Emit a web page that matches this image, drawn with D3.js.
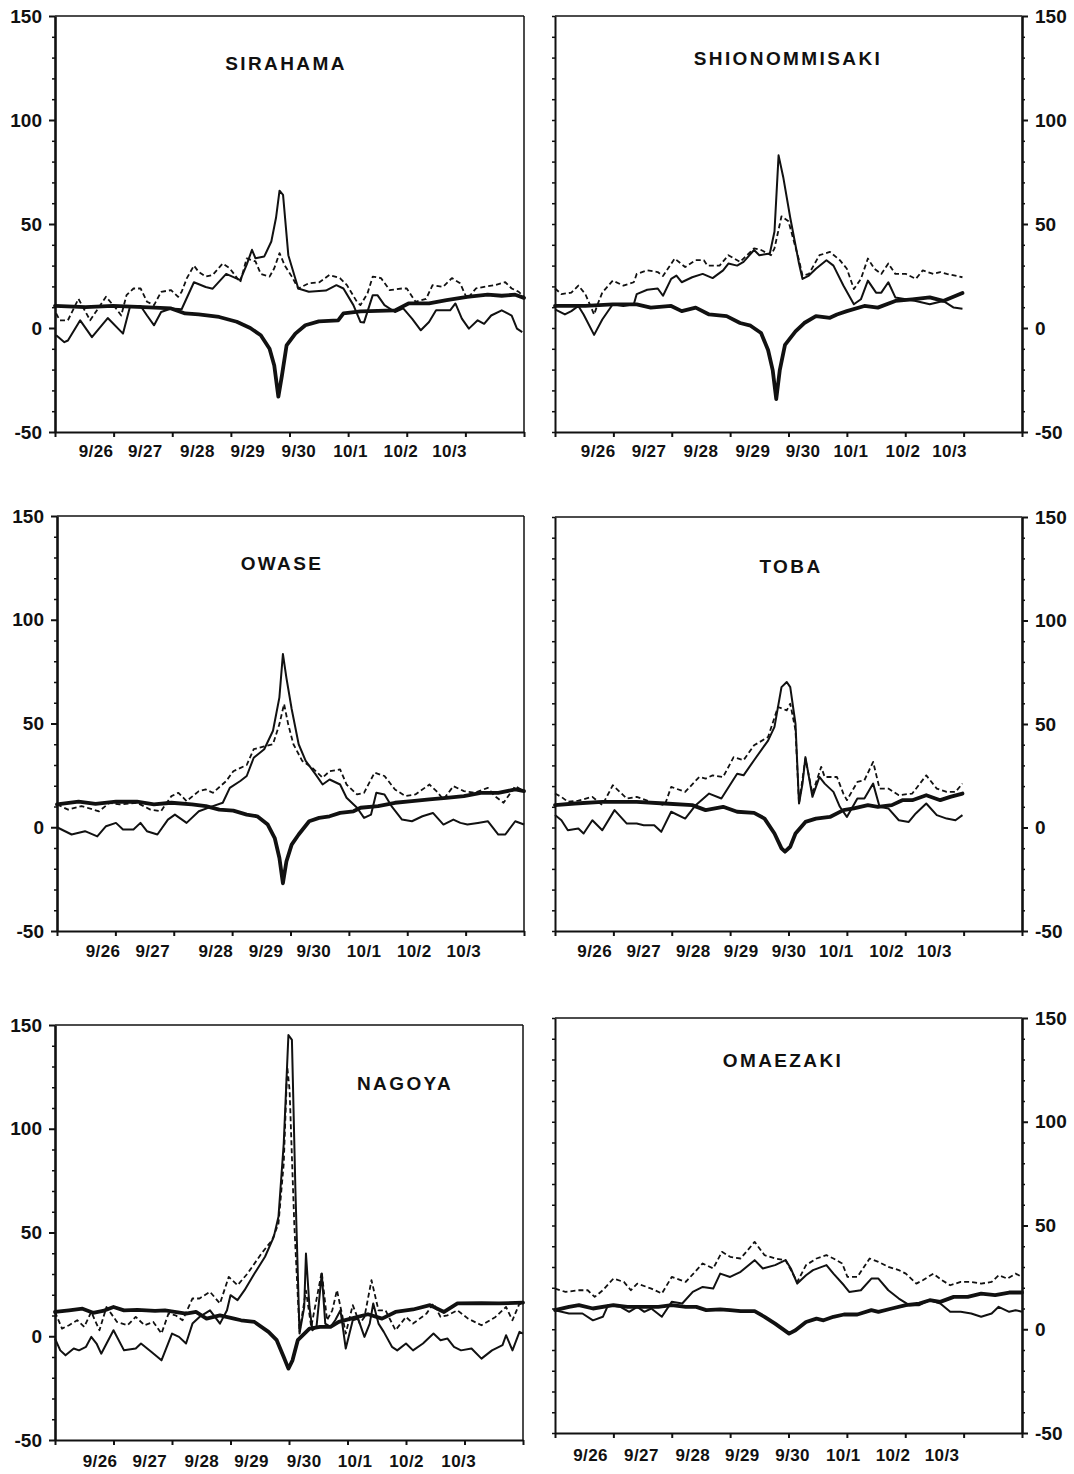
<!DOCTYPE html>
<html><head><meta charset="utf-8">
<script src="https://cdn.jsdelivr.net/npm/d3@7"></script>
<style>body{margin:0;background:#fff}svg{display:block}</style>
</head><body><svg id="c" width="1074" height="1474"></svg>
<script>
// ---------------- DATA (x = days since 9/26 00:00, y = value) ----------------
const stations = ["SIRAHAMA", "SHIONOMMISAKI", "OWASE", "TOBA", "NAGOYA", "OMAEZAKI"];
const dateLabels = ["9/26", "9/27", "9/28", "9/29", "9/30", "10/1", "10/2", "10/3"];
const yMajorTicks = [-50, 0, 50, 100, 150];
const dayTicks = [0, 1, 2, 3, 4, 5, 6, 7, 8];

// label positions (in days) under each panel
const labelDaysSirahama = [0.70, 1.54, 2.43, 3.29, 4.16, 5.04, 5.90, 6.73];
const labelDaysShiono   = [0.74, 1.61, 2.50, 3.39, 4.25, 5.07, 5.96, 6.76];
const labelDaysOwase    = [0.79, 1.64, 2.72, 3.58, 4.40, 5.26, 6.12, 6.97];
const labelDaysToba     = [0.68, 1.52, 2.37, 3.19, 4.01, 4.82, 5.68, 6.50];
const labelDaysNagoya   = [0.77, 1.62, 2.51, 3.36, 4.26, 5.13, 6.01, 6.90];
const labelDaysOmae     = [0.61, 1.48, 2.36, 3.21, 4.07, 4.94, 5.79, 6.63];

// SIRAHAMA
const sirahamaThick = [[0,10.6],[0.52,10],[0.99,10.6],[1.51,10],[1.98,9.4],[2.22,7],[2.45,6.5],[2.8,5.3],[3.1,3],[3.33,0],[3.51,-3.5],[3.66,-10],[3.74,-18],[3.81,-33],[3.87,-23],[3.95,-8.4],[4.1,-2.7],[4.27,1.3],[4.5,3.2],[4.83,3.7],[4.92,7],[5.21,8],[5.8,8.5],[6.03,11.8],[6.38,11.8],[6.68,13.4],[7.03,15],[7.38,16],[7.62,15.5],[7.85,16],[8,14.5]];
const sirahamaThin = [[0.02,-3.5],[0.16,-6.8],[0.22,-6],[0.43,3.7],[0.63,-4.4],[0.9,4.8],[1.16,-2.7],[1.28,10.3],[1.46,10.6],[1.57,6],[1.69,1.3],[1.81,7.7],[1.98,9.4],[2.16,9],[2.37,22],[2.57,19.7],[2.69,18.9],[2.92,26],[3.16,23],[3.27,30.5],[3.36,37.6],[3.42,33.5],[3.57,34.4],[3.69,41.6],[3.77,53],[3.83,66],[3.89,64],[3.98,35],[4.15,19],[4.33,17.4],[4.62,18],[4.8,20.6],[4.92,19],[5.09,11],[5.21,2.9],[5.27,2.6],[5.42,15.8],[5.5,15.8],[5.62,11],[5.8,7.7],[5.94,9.4],[6.09,4.5],[6.24,-1.1],[6.38,2.9],[6.5,8.5],[6.74,8.5],[6.83,11.8],[6.94,4.5],[7.06,-0.3],[7.21,3.7],[7.32,2],[7.44,6],[7.62,8.5],[7.79,6],[7.88,-0.3],[7.97,-2]];
const sirahamaDash = [[0.02,7],[0.08,3.7],[0.22,3.7],[0.4,14],[0.6,3.7],[0.87,15],[1.04,9.4],[1.13,6],[1.22,15.8],[1.34,19],[1.46,19],[1.57,12.6],[1.69,11],[1.81,17.4],[1.98,18.2],[2.1,15],[2.16,17.4],[2.25,24],[2.37,30],[2.45,27],[2.57,24.7],[2.69,25.5],[2.86,31],[2.98,28.7],[3.16,22],[3.27,33.5],[3.42,32],[3.51,26],[3.66,24.7],[3.74,28.7],[3.83,36],[3.92,30],[4.04,24.7],[4.15,19],[4.33,21.5],[4.51,22],[4.68,25.5],[4.86,24],[4.98,20.6],[5.15,12.6],[5.21,11],[5.33,16.6],[5.42,24.7],[5.56,24],[5.71,18.2],[5.92,19],[6.0,19],[6.15,12.6],[6.33,14],[6.44,20.6],[6.62,19.8],[6.77,24],[6.91,21.5],[7.03,14],[7.18,19],[7.32,19.8],[7.5,20.6],[7.68,22],[7.79,19],[7.91,17.4],[8,15]];

// SHIONOMMISAKI
const shionoThick = [[0,10.6],[0.52,10.6],[0.99,11.4],[1.4,11.4],[1.64,9.8],[1.99,10.6],[2.17,8.1],[2.41,9.8],[2.64,6.5],[2.94,5.7],[3.17,2.4],[3.35,1.1],[3.53,-2.4],[3.65,-10.6],[3.73,-20.4],[3.79,-34.2],[3.85,-20.4],[3.94,-8.1],[4.12,-1.6],[4.27,2.4],[4.47,5.7],[4.71,4.9],[4.83,6.5],[5.0,8.1],[5.3,10.6],[5.53,9.8],[5.83,13],[6.12,13.8],[6.42,14.7],[6.65,13],[6.98,16.8]];
const shionoThin = [[0,9],[0.17,6.5],[0.28,8.1],[0.4,10.6],[0.49,6.5],[0.67,-3.3],[0.81,4.1],[0.99,11.4],[1.17,10.6],[1.35,11.4],[1.4,16.3],[1.58,18.4],[1.76,19],[1.85,15.5],[1.99,23.6],[2.08,25.2],[2.17,22],[2.35,24.4],[2.53,26],[2.7,24],[2.88,27.7],[2.97,31],[3.12,30],[3.23,31.8],[3.41,37.5],[3.5,35],[3.68,35.8],[3.76,46.4],[3.83,83],[3.91,72.5],[4.03,53],[4.18,31],[4.24,23.6],[4.35,25.2],[4.47,28.5],[4.65,32.6],[4.77,30],[4.94,20.4],[5.12,11.4],[5.24,13.8],[5.36,22.8],[5.5,17],[5.59,17],[5.71,22],[5.83,14.7],[6.01,13.8],[6.18,13],[6.42,11.4],[6.65,13],[6.83,9.8],[6.98,9.3]];
const shionoDash = [[0,19],[0.11,16.3],[0.28,17],[0.4,20.4],[0.52,16.3],[0.67,6.5],[0.73,11.4],[0.81,17],[0.99,22.8],[1.17,20.4],[1.35,22],[1.4,26],[1.58,27.7],[1.76,26.9],[1.85,25],[2.05,33.4],[2.23,29.3],[2.41,32.6],[2.55,32.6],[2.61,30],[2.82,30],[2.97,35],[3.17,31.8],[3.41,38.3],[3.53,37.5],[3.7,35],[3.76,38.3],[3.88,53.7],[4.0,51.3],[4.18,32.6],[4.24,25.2],[4.35,26],[4.53,35],[4.71,36.6],[4.88,32.6],[5.0,28.5],[5.12,18.7],[5.24,23.6],[5.36,33.4],[5.47,28.5],[5.59,26],[5.71,31],[5.83,26],[6.01,26],[6.18,23.6],[6.3,27.7],[6.48,26],[6.6,26.9],[6.71,26],[6.98,24.4]];

// OWASE
const owaseThick = [[0,11],[0.37,12.3],[0.66,11.3],[1.01,12.3],[1.37,12.3],[1.66,11],[1.96,11.8],[2.31,11],[2.55,10.2],[2.78,8.5],[3.02,8],[3.25,6.1],[3.43,5.3],[3.61,1.3],[3.73,-5.2],[3.81,-14.8],[3.87,-27],[3.93,-16.5],[4.02,-8.4],[4.14,-3.5],[4.32,2.9],[4.49,4.5],[4.67,5.3],[4.85,6.9],[5.08,7.7],[5.2,9.4],[5.5,10.2],[5.79,11.8],[6.08,12.6],[6.38,13.4],[6.67,14.2],[6.97,15],[7.26,16.6],[7.56,16.6],[7.85,18.2],[8,17.4]];
const owaseThin = [[0,0],[0.25,-3.5],[0.48,-1.9],[0.69,-4.4],[0.84,0.5],[1.01,2.1],[1.13,-1.1],[1.31,-1.1],[1.43,2.1],[1.54,-1.9],[1.72,-3.5],[1.9,3.7],[2.02,6.1],[2.22,2.1],[2.43,7.7],[2.67,10.2],[2.84,11.8],[2.96,19],[3.14,22.3],[3.25,24.7],[3.37,33.5],[3.55,37.6],[3.7,46.5],[3.81,62.6],[3.87,83.5],[3.93,72],[4.02,57],[4.14,40],[4.26,32],[4.43,25.5],[4.55,20.6],[4.67,23],[4.85,20.6],[4.96,14.2],[5.14,9.4],[5.26,4.5],[5.38,6.1],[5.47,16.6],[5.61,15.8],[5.73,10.2],[5.91,3.7],[6.08,2.9],[6.26,5.3],[6.44,6.9],[6.62,1.3],[6.79,3.7],[6.91,2.1],[7.03,1.3],[7.21,2.1],[7.38,2.9],[7.56,-3.5],[7.68,-3.5],[7.85,2.9],[8,1.3]];
const owaseDash = [[0,11],[0.19,8.5],[0.42,10.2],[0.72,7.7],[0.9,11.8],[1.07,11],[1.37,11.8],[1.6,8.5],[1.78,7.7],[1.96,15],[2.08,16.6],[2.22,12.6],[2.43,17.4],[2.55,18.2],[2.67,16.6],[2.9,22.3],[3.02,27],[3.25,30],[3.37,37.6],[3.55,39],[3.7,40],[3.81,49.7],[3.89,59.4],[3.96,49.7],[4.05,40],[4.2,32],[4.37,28.7],[4.55,23.9],[4.67,27],[4.85,27.9],[4.96,20.6],[5.14,15.8],[5.26,16.6],[5.44,26.3],[5.61,24.7],[5.79,18.2],[5.97,15],[6.14,15.8],[6.38,20.6],[6.5,17.4],[6.62,13.4],[6.79,19.8],[6.97,17.4],[7.15,16.6],[7.38,19],[7.5,15],[7.65,11.8],[7.85,19.8],[8,17.4]];

// TOBA
const tobaThick = [[0,10.8],[0.34,11.6],[0.81,12.4],[1.4,12.4],[1.88,11.6],[2.35,10.8],[2.58,8.4],[2.88,10],[3.12,7.6],[3.41,7.1],[3.59,4.3],[3.76,-2.9],[3.88,-10.1],[3.94,-11.7],[4.03,-9.3],[4.12,-2.9],[4.29,2.7],[4.47,4.3],[4.71,5.1],[4.94,8.4],[5.12,9.2],[5.36,10.8],[5.53,10],[5.77,10.8],[5.95,13.2],[6.12,13.2],[6.36,15.6],[6.6,13.2],[6.77,14.8],[6.98,16.4]];
const tobaThin = [[0,6],[0.11,3.5],[0.22,-1.3],[0.4,-0.5],[0.49,-2.9],[0.64,3.5],[0.81,-1.3],[1.02,8.4],[1.23,1.9],[1.4,1.9],[1.52,1.1],[1.7,1.1],[1.82,-2.1],[1.99,7.6],[2.23,4.3],[2.41,10.8],[2.64,16.4],[2.85,14],[3.12,26],[3.23,25.2],[3.41,32.5],[3.65,42],[3.76,48.6],[3.88,67.8],[3.97,70.3],[4.03,67.8],[4.12,50],[4.18,11.6],[4.24,21.2],[4.29,34],[4.41,14.8],[4.53,24.4],[4.62,21.2],[4.77,17.2],[4.88,10],[5.0,5.1],[5.18,14],[5.3,14],[5.45,21.2],[5.56,10],[5.71,9.2],[5.89,3.5],[6.06,2.7],[6.18,6.8],[6.36,11.6],[6.54,6],[6.71,4.3],[6.86,3.5],[6.98,6]];
const tobaDash = [[0,16.4],[0.11,14.8],[0.22,12.4],[0.4,13],[0.64,14.8],[0.81,10.8],[0.99,20.4],[1.23,14],[1.4,14.8],[1.64,12.4],[1.88,10.8],[1.99,19.6],[2.23,17.2],[2.47,24.4],[2.58,23.6],[2.7,25.2],[2.88,24.4],[3.06,34],[3.23,32.5],[3.41,39.7],[3.65,43.7],[3.82,58.2],[3.97,56.6],[4.03,59.8],[4.12,47],[4.18,11.6],[4.29,33.3],[4.41,16.4],[4.56,29.3],[4.62,24.4],[4.83,24.4],[4.94,16.4],[5.0,13.2],[5.18,22],[5.3,22.8],[5.45,31.7],[5.56,18.8],[5.71,18.8],[5.89,15.6],[6.12,16.4],[6.36,25.2],[6.54,18.8],[6.71,17.2],[6.86,17.2],[6.98,21.2]];

// NAGOYA
const nagoyaThick = [[0,11.7],[0.24,12.5],[0.47,13.3],[0.65,11.3],[0.82,12.2],[1.0,14.1],[1.18,12.5],[1.41,12.7],[1.71,12.2],[1.88,12.5],[2.24,10.9],[2.41,11.7],[2.59,8.5],[2.82,10.1],[3.06,8.5],[3.18,7.7],[3.41,6.9],[3.65,2.1],[3.79,-1.9],[3.91,-10],[3.99,-15.6],[4.06,-11.6],[4.15,-1.9],[4.35,3.7],[4.53,4.5],[4.71,4.5],[4.85,6.9],[5.06,8.5],[5.35,10.6],[5.59,8.5],[5.82,11.7],[6.12,12.9],[6.41,15],[6.65,11.7],[6.88,15.8],[7.29,16],[7.59,15.8],[8,16.2]];
const nagoyaThin = [[0,-1.1],[0.09,-6.8],[0.18,-9.2],[0.32,-5.9],[0.41,-6.8],[0.53,-5.1],[0.62,-0.3],[0.71,-3.5],[0.79,-8.4],[1.0,2.9],[1.18,-6.8],[1.38,-5.9],[1.47,-3.5],[1.65,-7.6],[1.82,-11.6],[2.0,1.3],[2.12,-0.3],[2.24,-3.5],[2.35,6.1],[2.47,9.3],[2.65,12.5],[2.82,6.1],[2.94,12.5],[3.0,19.8],[3.12,17.4],[3.24,22.2],[3.41,30.2],[3.59,38.3],[3.74,47.9],[3.82,57.6],[3.91,92.9],[3.99,145.2],[4.05,142.8],[4.11,70],[4.18,1.3],[4.26,14],[4.29,39.9],[4.35,14.1],[4.4,2.9],[4.47,4.5],[4.56,30.2],[4.62,6.1],[4.71,4.5],[4.79,7.7],[4.88,12.5],[4.97,-5.9],[5.09,7.7],[5.18,8.5],[5.29,-0.3],[5.38,6.1],[5.44,15.8],[5.53,6.1],[5.62,2.1],[5.76,-5.1],[5.85,-6.8],[6.0,-3.5],[6.12,-6.8],[6.29,-3.5],[6.47,1.3],[6.59,-1.9],[6.71,-1.1],[6.82,-5.1],[6.94,-6.8],[7.12,-5.9],[7.29,-10.8],[7.47,-6.8],[7.65,-4.3],[7.71,0.5],[7.82,-6.8],[7.94,2.1],[8,1.3]];
const nagoyaDash = [[0,11.7],[0.12,3.7],[0.24,5.3],[0.38,7.7],[0.5,4.5],[0.62,11.7],[0.76,2.9],[0.88,14.1],[1.06,6.9],[1.24,5.3],[1.38,9.3],[1.53,5.3],[1.68,6.9],[1.82,1.3],[1.94,10.9],[2.06,10.1],[2.18,7.7],[2.35,18.2],[2.47,18.2],[2.65,21.4],[2.82,15.8],[2.97,28.6],[3.12,24.6],[3.29,30.2],[3.53,39.9],[3.71,46.3],[3.82,54.3],[3.91,83.3],[3.97,130],[4.01,118.6],[4.09,54.3],[4.18,2.1],[4.29,22],[4.38,4.5],[4.56,31],[4.65,7.7],[4.74,12.5],[4.82,22.2],[4.91,10.1],[4.97,1.3],[5.09,15],[5.21,6.1],[5.29,9.3],[5.41,27],[5.53,12.5],[5.65,12.5],[5.82,2.9],[6.0,9.3],[6.12,6.1],[6.35,10.9],[6.47,15.8],[6.59,9.3],[6.71,10.1],[6.88,12.5],[7.06,8.5],[7.29,5.3],[7.53,9.3],[7.71,14.1],[7.82,7.7],[7.94,15.8],[8,15]];

// OMAEZAKI
const omaeThick = [[0,9.2],[0.24,10.8],[0.41,11.6],[0.65,10],[1.0,11.6],[1.24,10.8],[1.53,10.8],[1.77,10.8],[2.0,11.6],[2.24,10.8],[2.42,10.8],[2.59,9.2],[2.83,9.6],[3.0,9.2],[3.18,8.7],[3.42,8.7],[3.59,6],[3.77,2.7],[3.89,0.3],[4.01,-2.1],[4.12,-0.5],[4.3,3.5],[4.48,5.1],[4.6,4.3],[4.77,6],[4.95,7.1],[5.18,7.1],[5.42,9.2],[5.54,8.4],[5.77,10],[6.01,11.6],[6.24,12.4],[6.42,14],[6.6,13.2],[6.83,15.6],[7.07,15.6],[7.3,17.2],[7.54,16.4],[7.78,17.7],[8,17.7]];
const omaeThin = [[0,9.2],[0.24,7.6],[0.47,7.6],[0.65,4.3],[0.82,6],[0.91,11.6],[1.12,10.8],[1.27,8.4],[1.41,10.8],[1.53,8.4],[1.65,10],[1.83,6],[2.0,13.2],[2.18,12.4],[2.36,18],[2.53,20.4],[2.71,19.6],[2.83,26.8],[3.0,25.2],[3.18,27.7],[3.42,33.3],[3.56,29.3],[3.77,30.9],[3.95,33.3],[4.04,29.3],[4.15,22],[4.3,26],[4.42,28.5],[4.65,30.9],[4.77,26.8],[4.95,21.2],[5.04,18],[5.24,18.8],[5.42,24.4],[5.54,24.4],[5.71,18.8],[5.89,14.8],[6.07,11.6],[6.24,11.6],[6.42,14],[6.6,12.4],[6.77,8.4],[6.95,8.4],[7.13,7.6],[7.3,6],[7.48,7.6],[7.6,10.8],[7.78,8.4],[7.89,9.2],[8,8.4]];
const omaeDash = [[0,19.6],[0.18,18],[0.41,18.8],[0.56,18.8],[0.68,15.6],[0.82,18.8],[1.0,24.4],[1.18,22.8],[1.3,18.8],[1.41,22],[1.65,19.6],[1.83,17.2],[2.0,25.2],[2.24,22.8],[2.53,31.7],[2.71,29.3],[2.86,37.3],[3.0,34.9],[3.18,34.1],[3.42,42.1],[3.59,35.7],[3.77,34.1],[3.95,33.3],[4.15,22.8],[4.3,30.9],[4.48,34.1],[4.65,35.7],[4.77,34.1],[4.92,31.7],[5.01,25.2],[5.18,25.2],[5.39,34.1],[5.54,32.5],[5.71,30.1],[5.89,28.5],[6.01,26.8],[6.19,22],[6.3,23.6],[6.48,26.8],[6.63,23.6],[6.77,21.2],[6.95,22.8],[7.13,22.8],[7.3,22],[7.48,22.8],[7.6,26],[7.75,24.4],[7.89,26.8],[8,25.2]];

// ---------------- LAYOUT ----------------
const panels = [
  {name: stations[0], thick: sirahamaThick, thin: sirahamaThin, dash: sirahamaDash, labels: labelDaysSirahama,
   x0: 55, x1: 524, yTop: 16, yBot: 432, side: "left", tx: 286, ty: 70, ly: 457},
  {name: stations[1], thick: shionoThick, thin: shionoThin, dash: shionoDash, labels: labelDaysShiono,
   x0: 555, x1: 1022, yTop: 16, yBot: 432, side: "right", tx: 788, ty: 65, ly: 457},
  {name: stations[2], thick: owaseThick, thin: owaseThin, dash: owaseDash, labels: labelDaysOwase,
   x0: 57, x1: 524, yTop: 516, yBot: 931, side: "left", tx: 282, ty: 570, ly: 957},
  {name: stations[3], thick: tobaThick, thin: tobaThin, dash: tobaDash, labels: labelDaysToba,
   x0: 555, x1: 1022, yTop: 517, yBot: 931, side: "right", tx: 791, ty: 573, ly: 957},
  {name: stations[4], thick: nagoyaThick, thin: nagoyaThin, dash: nagoyaDash, labels: labelDaysNagoya,
   x0: 55, x1: 523, yTop: 1025, yBot: 1440, side: "left", tx: 405, ty: 1090, ly: 1467},
  {name: stations[5], thick: omaeThick, thin: omaeThin, dash: omaeDash, labels: labelDaysOmae,
   x0: 555, x1: 1022, yTop: 1018, yBot: 1433, side: "right", tx: 783, ty: 1067, ly: 1461}
];

const FONT = "'Liberation Sans', Arial, Helvetica, sans-serif";
const INK = "#111";
const svg = d3.select("#c");
svg.append("rect").attr("width", 1074).attr("height", 1474).attr("fill", "#fff");

const minorTicks = d3.range(-50, 151, 10).filter(v => v % 50 !== 0);
const allTens = d3.range(-50, 151, 10);
const plainFmt = d => String(d);

panels.forEach(p => {
  const x = d3.scaleLinear().domain([0, 8]).range([p.x0, p.x1]);
  const y = d3.scaleLinear().domain([-50, 150]).range([p.yBot, p.yTop]);
  const g = svg.append("g");

  // frame: top border
  g.append("line").attr("x1", p.x0).attr("x2", p.x1).attr("y1", p.yTop).attr("y2", p.yTop)
    .attr("stroke", INK).attr("stroke-width", 1.3);

  if (p.side === "left") {
    g.append("line").attr("x1", p.x1).attr("x2", p.x1).attr("y1", p.yTop).attr("y2", p.yBot)
      .attr("stroke", INK).attr("stroke-width", 1.5);
    const ax = g.append("g").attr("transform", `translate(${p.x0},0)`)
      .call(d3.axisLeft(y).tickValues(yMajorTicks).tickFormat(plainFmt).tickSize(6).tickSizeOuter(0).tickPadding(7));
    ax.select(".domain").attr("stroke", INK).attr("stroke-width", 2.6);
    ax.selectAll(".tick line").attr("stroke", INK).attr("stroke-width", 2);
    ax.selectAll(".tick text").attr("font-family", FONT).attr("font-weight", "bold")
      .attr("font-size", 19).attr("fill", INK);
    const mn = g.append("g").attr("transform", `translate(${p.x0},0)`)
      .call(d3.axisLeft(y).tickValues(minorTicks).tickSize(3).tickFormat(""));
    mn.select(".domain").remove();
    mn.selectAll(".tick line").attr("stroke", INK).attr("stroke-width", 1.5);
  } else {
    const lb = g.append("g").attr("transform", `translate(${p.x0},0)`)
      .call(d3.axisLeft(y).tickValues(allTens).tickSize(3).tickSizeOuter(0).tickFormat(""));
    lb.select(".domain").attr("stroke", INK).attr("stroke-width", 2);
    lb.selectAll(".tick line").attr("stroke", INK).attr("stroke-width", 1.5);
    const ax = g.append("g").attr("transform", `translate(${p.x1},0)`)
      .call(d3.axisRight(y).tickValues(yMajorTicks).tickFormat(plainFmt).tickSize(6).tickSizeOuter(0).tickPadding(7));
    ax.select(".domain").attr("stroke", INK).attr("stroke-width", 2.6);
    ax.selectAll(".tick line").attr("stroke", INK).attr("stroke-width", 2);
    ax.selectAll(".tick text").attr("font-family", FONT).attr("font-weight", "bold")
      .attr("font-size", 19).attr("fill", INK);
    const mn = g.append("g").attr("transform", `translate(${p.x1},0)`)
      .call(d3.axisRight(y).tickValues(minorTicks).tickSize(3).tickFormat(""));
    mn.select(".domain").remove();
    mn.selectAll(".tick line").attr("stroke", INK).attr("stroke-width", 1.5);
  }

  // bottom axis
  const bx = g.append("g").attr("transform", `translate(0,${p.yBot})`)
    .call(d3.axisBottom(x).tickValues(dayTicks).tickSize(5).tickSizeOuter(0).tickFormat(""));
  bx.select(".domain").attr("stroke", INK).attr("stroke-width", 2.2);
  bx.selectAll(".tick line").attr("stroke", INK).attr("stroke-width", 2);

  // date labels
  g.selectAll("text.dl").data(dateLabels).join("text").attr("class", "dl")
    .attr("x", (d, i) => x(p.labels[i])).attr("y", p.ly)
    .attr("text-anchor", "middle").attr("font-family", FONT).attr("font-weight", "bold")
    .attr("font-size", 17).attr("letter-spacing", 0.4).attr("fill", INK).text(d => d);

  // title
  g.append("text").attr("x", p.tx).attr("y", p.ty).attr("text-anchor", "middle")
    .attr("font-family", FONT).attr("font-weight", "bold").attr("font-size", 19)
    .attr("letter-spacing", 2.4).attr("fill", INK).text(p.name);

  // series
  const line = d3.line().x(d => x(d[0])).y(d => y(d[1]));
  g.append("path").datum(p.dash).attr("d", line).attr("fill", "none").attr("stroke", INK)
    .attr("stroke-width", 1.8).attr("stroke-dasharray", "5,3").attr("stroke-linejoin", "round");
  g.append("path").datum(p.thin).attr("d", line).attr("fill", "none").attr("stroke", INK)
    .attr("stroke-width", 2).attr("stroke-linejoin", "round");
  g.append("path").datum(p.thick).attr("d", line).attr("fill", "none").attr("stroke", INK)
    .attr("stroke-width", 3.8).attr("stroke-linejoin", "round").attr("stroke-linecap", "round");
});
</script></body></html>
